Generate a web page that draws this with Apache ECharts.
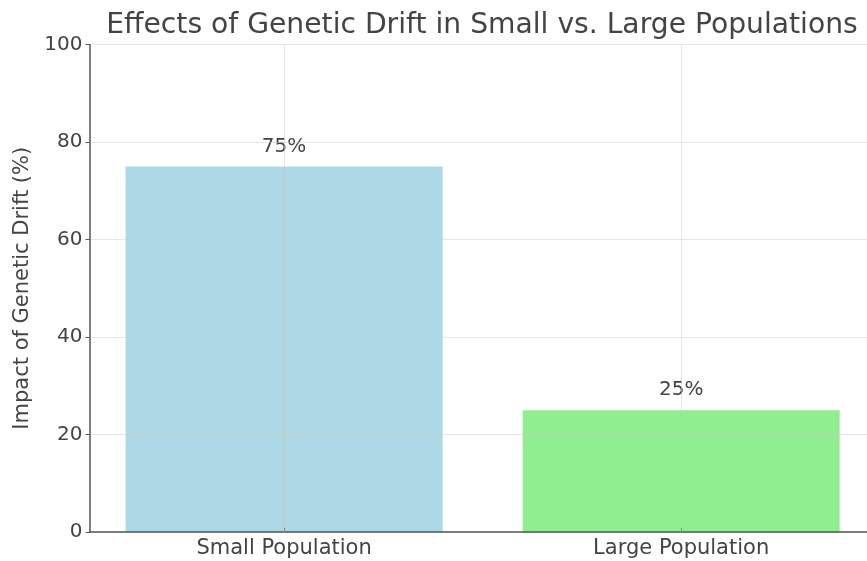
<!DOCTYPE html>
<html>
<head>
<meta charset="utf-8">
<script src="https://cdn.jsdelivr.net/npm/echarts@6/dist/echarts.min.js"></script>
<style>
  html, body { margin: 0; padding: 0; background: #fff; overflow: hidden; }
  #chart { width: 867px; height: 561px; }
</style>
</head>
<body>
<div id="chart"></div>
<script>
// Chart data
const categories = ['Small Population', 'Large Population'];
const impactValues = [75, 25];
const barColors = ['#ADD8E6', '#90EE90'];
const yTicks = [0, 20, 40, 60, 80, 100];

const FONT = 'DejaVu Sans';
const TEXT = '#444';

const chart = echarts.init(document.getElementById('chart'), null, { renderer: 'canvas' });

// Bars sit at integer positions 0..n-1 on a numeric axis
const barData = categories.map((c, i) => ({
  value: [i, impactValues[i]],
  itemStyle: { color: barColors[i] }
}));
const catPositions = categories.map((c, i) => i);

chart.setOption({
  animation: false,
  backgroundColor: '#fff',
  title: {
    text: 'Effects of Genetic Drift in Small vs. Large Populations',
    left: 477,
    top: 7,
    textAlign: 'center',
    textStyle: { fontFamily: FONT, fontSize: 28.2, fontWeight: 'normal', color: TEXT }
  },
  grid: { left: 89.5, right: 0, top: 44.5, bottom: 29, containLabel: false },
  xAxis: {
    type: 'value',
    min: -0.49,
    max: 1.468,
    z: 3,
    axisLine: { show: true, onZero: false, lineStyle: { color: '#555', width: 1.5 } },
    axisTick: { show: true, inside: true, length: 4, customValues: catPositions, lineStyle: { color: '#555' } },
    axisLabel: {
      customValues: catPositions,
      formatter: v => categories[Math.round(v)] || '',
      fontFamily: FONT, fontSize: 21, color: TEXT, margin: 6
    },
    splitLine: { show: false }
  },
  yAxis: {
    type: 'value',
    min: yTicks[0],
    max: yTicks[yTicks.length - 1],
    interval: yTicks[1] - yTicks[0],
    z: 3,
    name: 'Impact of Genetic Drift (%)',
    nameLocation: 'middle',
    nameRotate: 90,
    nameGap: 56,
    nameTextStyle: { fontFamily: FONT, fontSize: 21, color: TEXT },
    axisLine: { show: true, onZero: false, lineStyle: { color: '#555', width: 1.5 } },
    axisTick: { show: true, inside: false, length: 4, lineStyle: { color: '#555' } },
    axisLabel: { fontFamily: FONT, fontSize: 20, color: TEXT, margin: 7 },
    splitLine: { show: true, lineStyle: { color: 'rgba(200,200,200,0.45)', width: 1 } }
  },
  series: [{
    type: 'bar',
    data: barData,
    barWidth: 317,
    z: 2,
    label: {
      show: true,
      position: 'top',
      distance: 10,
      formatter: p => p.value[1] + '%',
      fontFamily: FONT, fontSize: 20, color: TEXT
    },
    markLine: {
      silent: true,
      symbol: 'none',
      label: { show: false },
      z: 4,
      lineStyle: { color: 'rgba(200,200,200,0.45)', width: 1, type: 'solid' },
      data: catPositions.map(x => ({ xAxis: x }))
    }
  }]
});
</script>
</body>
</html>
